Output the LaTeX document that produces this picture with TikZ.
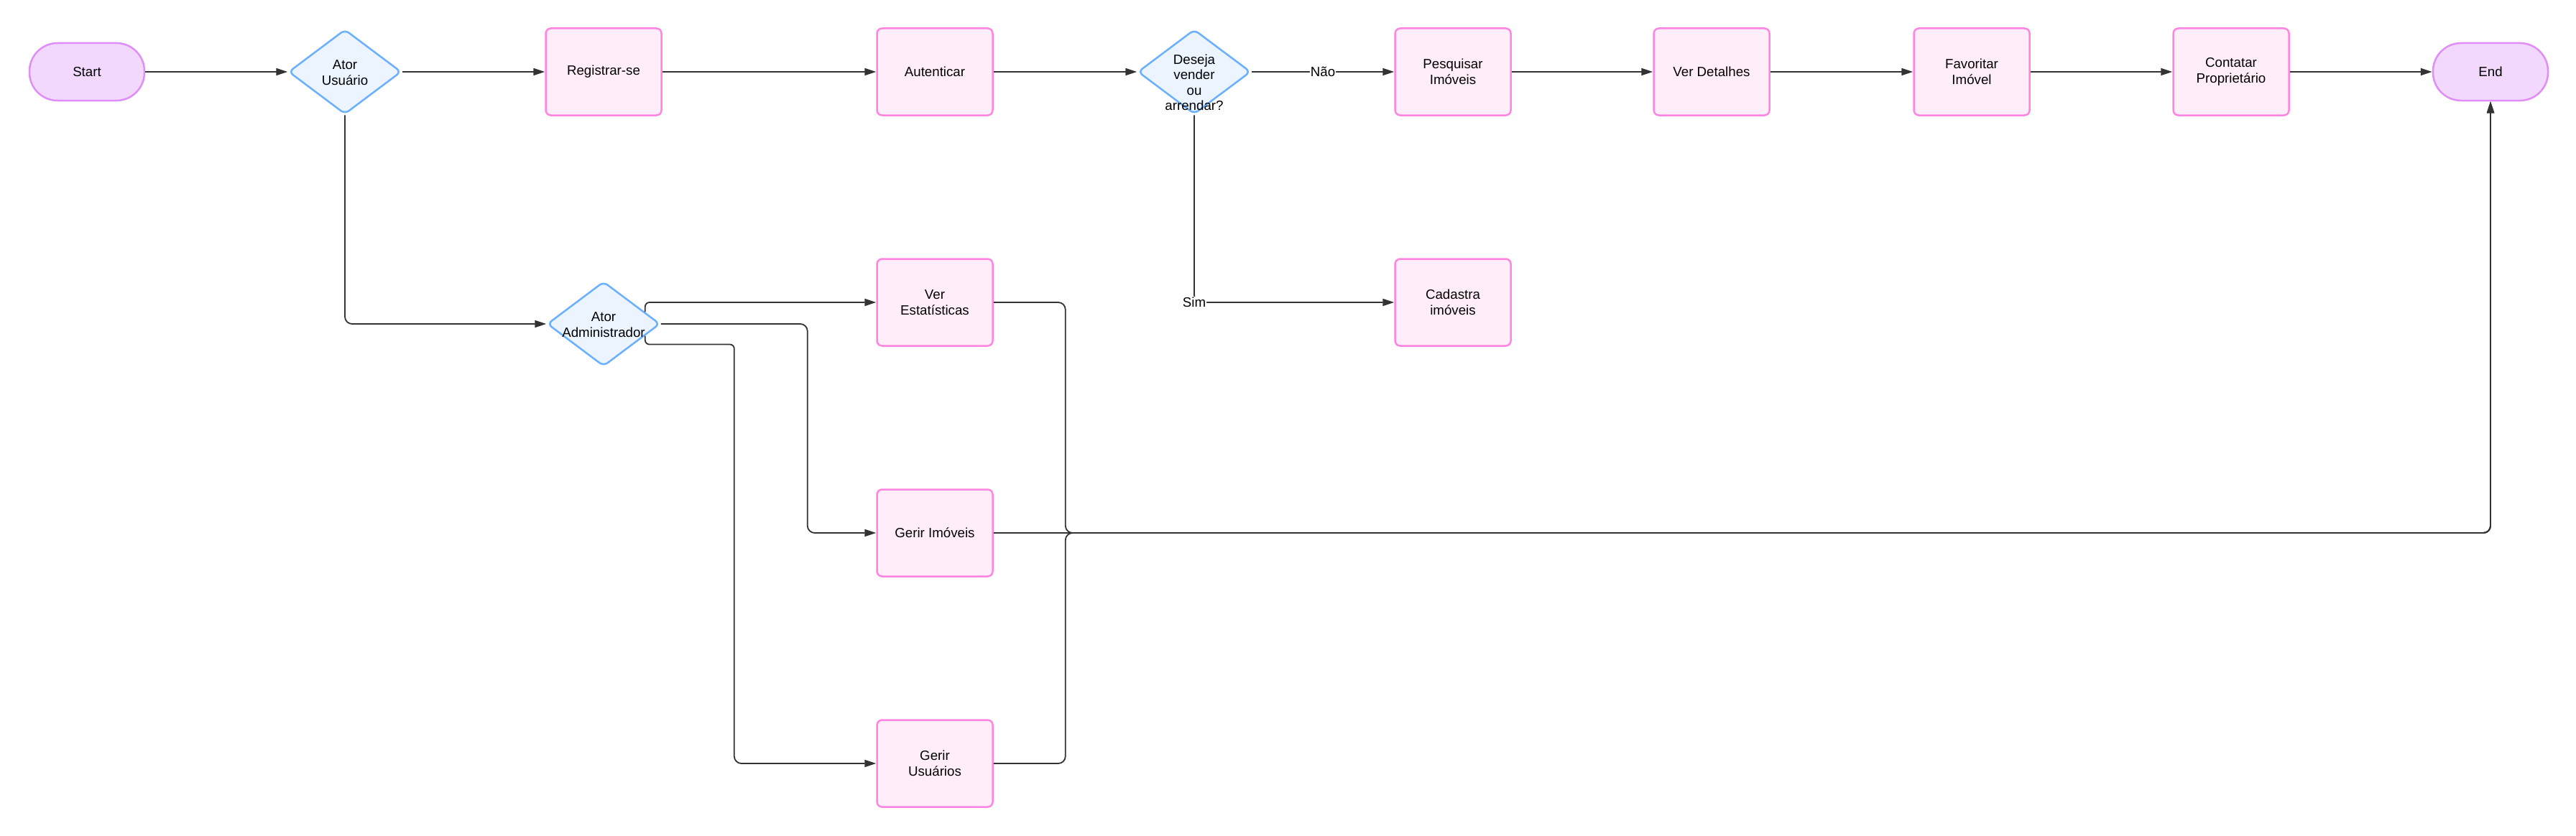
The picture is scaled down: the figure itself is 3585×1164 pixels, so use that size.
\documentclass[tikz,border=0pt]{standalone}
\usepackage{fontspec}
\setmainfont{Liberation Sans}
\usetikzlibrary{shapes.geometric,arrows.meta,calc}
\definecolor{boxfill}{HTML}{FFEEFA}
\definecolor{boxline}{HTML}{FF85E0}
\definecolor{termfill}{HTML}{F2D8FD}
\definecolor{termline}{HTML}{E08EF7}
\definecolor{diamfill}{HTML}{EBF4FF}
\definecolor{diamline}{HTML}{6AB0FF}
\definecolor{edgecol}{HTML}{333333}
\tikzset{
  txt/.style={font=\fontsize{18.7pt}{21.5pt}\selectfont, align=center, text=black},
  stepbox/.style={txt, shape=rectangle, draw=boxline, fill=boxfill, line width=2.5pt,
    rounded corners=7pt, minimum width=161pt, minimum height=121pt, inner sep=0pt},
  term/.style={txt, shape=rectangle, draw=termline, fill=termfill, line width=2.5pt,
    rounded corners=39pt, minimum width=160pt, minimum height=80pt, inner sep=0pt},
  diam/.style={shape=diamond, draw=diamline, fill=diamfill, line width=2.5pt,
    rounded corners=7pt, minimum width=157pt, minimum height=118pt, inner sep=0pt},
  conn/.style={draw=edgecol, line width=1.8pt, rounded corners=10pt,
    -{Triangle[length=16pt,width=10pt]}},
  elabel/.style={txt, fill=white, inner sep=1pt}
}
\begin{document}
\begin{tikzpicture}[x=1pt,y=-1pt]
\useasboundingbox (0,0) rectangle (3585,1164);
% top row
\node[term] (start) at (121,100) {Start};
\node[diam] (au) at (480,100) {};
\node[txt] (aut-t) at (480,101) {Ator\\Usuário};
\node[stepbox] (reg) at (840,100) {Registrar-se};
\node[stepbox] (aut) at (1301,100) {Autenticar};
\node[diam] (des) at (1662,100) {};
\node[stepbox] (pes) at (2022,100) {Pesquisar\\Imóveis};
\node[stepbox] (det) at (2382,100) {Ver Detalhes};
\node[stepbox] (fav) at (2744,100) {Favoritar\\Imóvel};
\node[stepbox] (con) at (3105,100) {Contatar\\Proprietário};
\node[term] (end) at (3466,100) {End};
% lower part
\node[diam] (adm) at (840,451) {};
\node[stepbox] (vest) at (1301,421) {Ver\\Estatísticas};
\node[stepbox] (cad) at (2022,421) {Cadastra\\imóveis};
\node[stepbox] (gim) at (1301,742) {Gerir Imóveis};
\node[stepbox] (gus) at (1301,1063) {Gerir\\Usuários};
% connectors
\draw[conn] (start) -- (au);
\draw[conn] (au) -- (reg);
\draw[conn] (reg) -- (aut);
\draw[conn] (aut) -- (des);
\draw[conn] (des) -- node[elabel] (nao) {Não} (pes);
\draw[conn] (pes) -- (det);
\draw[conn] (det) -- (fav);
\draw[conn] (fav) -- (con);
\draw[conn] (con) -- (end);
\draw[conn] (au.south) |- (adm.west);
\draw[conn] (des.south) |- node[elabel, pos=0.5] (sim) {Sim} (cad.west);
\draw[conn, rounded corners=6pt] ($(adm.north east)!0.45!(adm.east)$) |- (vest.west);
\draw[conn] (adm.east) -- ++(204,0) |- (gim.west);
\draw[conn, rounded corners=6pt] ($(adm.south east)!0.45!(adm.east)$) -- ++(0,12) -- ++(124,0) [rounded corners=10pt] |- (gus.west);
\draw[conn] (vest.east) -- ++(100,0) |- (end.south |- gim.east) -- (end.south);
\draw[conn] (gim.east) -| (end.south);
\draw[conn] (gus.east) -- ++(100,0) |- (end.south |- gim.east) -- (end.south);
% diamond texts on top
\node[txt] (des-t) at (1662,115) {Deseja\\vender\\ou\\arrendar?};
\node[txt] (adm-t) at (840,452) {Ator\\Administrador};
\end{tikzpicture}
\end{document}
